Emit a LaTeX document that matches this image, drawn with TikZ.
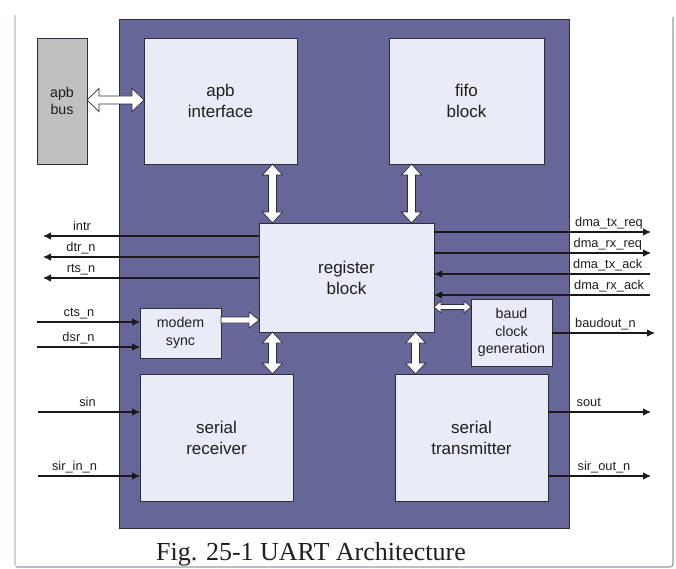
\documentclass[tikz,border=0pt]{standalone}
\usepackage{fontspec}
\setmainfont{Liberation Serif}
\newfontfamily\arialf{Liberation Sans}
\usetikzlibrary{calc,arrows.meta}
\definecolor{uartpurple}{RGB}{102,102,153}
\definecolor{boxfill}{RGB}{233,236,246}
\definecolor{busgrey}{RGB}{192,192,192}
\definecolor{edgecol}{RGB}{45,45,55}
\definecolor{txtcol}{RGB}{30,30,30}
\definecolor{frameL}{RGB}{205,212,216}
\definecolor{frameB}{RGB}{140,160,166}
\newcommand\harrowdbl[5]{%
  \path let \p1=($(#2)-(#1)$) in \pgfextra{%
    \pgfmathsetmacro\harL{veclen(\x1,\y1)}%
    \pgfmathsetmacro\harA{atan2(\y1,\x1)}%
    \global\let\harL\harL \global\let\harA\harA};
  \draw[hollow,shift={(#1)},rotate=\harA] (0,0) -- (#5,#4) -- (#5,#3) -- ({\harL-#5},#3) -- ({\harL-#5},#4) -- (\harL,0) -- ({\harL-#5},-#4) -- ({\harL-#5},-#3) -- (#5,-#3) -- (#5,-#4) -- cycle;
}
\newcommand\harrowsgl[5]{%
  \path let \p1=($(#2)-(#1)$) in \pgfextra{%
    \pgfmathsetmacro\harL{veclen(\x1,\y1)}%
    \pgfmathsetmacro\harA{atan2(\y1,\x1)}%
    \global\let\harL\harL \global\let\harA\harA};
  \draw[hollow,shift={(#1)},rotate=\harA] (0,#3) -- ({\harL-#5},#3) -- ({\harL-#5},#4) -- (\harL,0) -- ({\harL-#5},-#4) -- ({\harL-#5},-#3) -- (0,-#3) -- cycle;
}
\tikzset{
  blk/.style={draw=edgecol, line width=0.8pt, fill=boxfill, anchor=north west, inner sep=0pt, outer sep=0pt, align=center, text=txtcol},
  bigtxt/.style={font=\arialf\fontsize{17}{21}\selectfont},
  smalltxt/.style={font=\arialf\fontsize{14.2}{17.5}\selectfont},
  hollow/.style={draw=edgecol, fill=white, line width=0.7pt, line join=miter},
  sig/.style={draw=black!90, line width=1.1pt, -{Latex[length=8pt,width=7.5pt]}},
  siglbl/.style={font=\arialf\fontsize{12.8}{14}\selectfont, text=txtcol, inner sep=0pt},
}
\begin{document}
\begin{tikzpicture}[x=1pt,y=-1pt]
\useasboundingbox (0,0) rectangle (676,569);
% frame
\draw[frameL, line width=1.6pt] (15,15) -- (15,566);
\draw[frameB, line width=1.3pt, rounded corners=3pt] (16,567) -- (673,567) -- (673,17);
% main block
\node[draw=edgecol, line width=0.8pt, fill=uartpurple, anchor=north west, inner sep=0pt, outer sep=0pt, minimum width=450pt, minimum height=509pt] (uart) at (119,19) {};
% blocks
\node[blk, fill=busgrey, smalltxt, minimum width=50pt, minimum height=126pt] (apbbus) at (37,38) {apb\\bus};
\node[blk, bigtxt, minimum width=153pt, minimum height=126pt] (apbif) at (144,38) {apb\\interface};
\node[blk, bigtxt, minimum width=155pt, minimum height=126pt] (fifo) at (389,38) {fifo\\block};
\node[blk, bigtxt, minimum width=175pt, minimum height=109pt] (reg) at (259,223) {register\\block};
\node[blk, smalltxt, minimum width=81pt, minimum height=50pt] (modem) at (140,308) {modem\\sync};
\node[blk, smalltxt, minimum width=81pt, minimum height=67pt] (baud) at (471,299) {baud\\clock\\generation};
\node[blk, bigtxt, minimum width=153pt, minimum height=127pt] (rx) at (140,374) {serial\\receiver};
\node[blk, bigtxt, minimum width=153pt, minimum height=127pt] (tx) at (395,374) {serial\\transmitter};
% hollow arrow end points
\coordinate (apbA) at (apbbus.east |- 0,100);
\coordinate (apbB) at (apbif.west |- 0,100);
\coordinate (v1a) at (272.5,0 |- apbif.south);
\coordinate (v1b) at (272.5,0 |- reg.north);
\coordinate (v2a) at (411.5,0 |- fifo.south);
\coordinate (v2b) at (411.5,0 |- reg.north);
\coordinate (v3a) at (272.5,0 |- reg.south);
\coordinate (v3b) at (272.5,0 |- rx.north);
\coordinate (v4a) at (415.5,0 |- reg.south);
\coordinate (v4b) at (415.5,0 |- tx.north);
\coordinate (msA) at (modem.east |- 0,320);
\coordinate (msB) at (reg.west |- 0,320);
\coordinate (bdA) at (reg.east |- 0,307);
\coordinate (bdB) at (baud.west |- 0,307);
\harrowdbl{apbA}{apbB}{4}{11.5}{12}
\harrowdbl{v1a}{v1b}{4}{10}{11}
\harrowdbl{v2a}{v2b}{4}{10}{11}
\harrowdbl{v3a}{v3b}{4}{10}{11}
\harrowdbl{v4a}{v4b}{4}{10}{11}
\harrowsgl{msA}{msB}{3}{8}{10}
\harrowdbl{bdA}{bdB}{2.5}{6}{7}
% left signals
\coordinate (intrE) at (43,236);
\coordinate (dtrE) at (43,257);
\coordinate (rtsE) at (43,278);
\coordinate (ctsS) at (37,322);
\coordinate (dsrS) at (37,347);
\coordinate (sinS) at (38,412);
\coordinate (sirinS) at (38,476);
\draw[sig] (reg.west |- intrE) -- (intrE);
\draw[sig] (reg.west |- dtrE) -- (dtrE);
\draw[sig] (reg.west |- rtsE) -- (rtsE);
\draw[sig] (ctsS) -- (ctsS -| modem.west);
\draw[sig] (dsrS) -- (dsrS -| modem.west);
\draw[sig] (sinS) -- (sinS -| rx.west);
\draw[sig] (sirinS) -- (sirinS -| rx.west);
\node[siglbl, anchor=base] (lintr) at (82,230.5) {intr};
\node[siglbl, anchor=base] (ldtr) at (81,251.5) {dtr\_n};
\node[siglbl, anchor=base] (lrts) at (81,272.5) {rts\_n};
\node[siglbl, anchor=base] (lcts) at (79,316.5) {cts\_n};
\node[siglbl, anchor=base] (ldsr) at (78.5,341.5) {dsr\_n};
\node[siglbl, anchor=base] (lsin) at (87.5,406.5) {sin};
\node[siglbl, anchor=base] (lsirin) at (74.5,470.5) {sir\_in\_n};
% right signals
\coordinate (txreqE) at (651,232);
\coordinate (rxreqE) at (651,253);
\coordinate (txackS) at (650,274);
\coordinate (rxackS) at (650,295);
\coordinate (baudE) at (655,333);
\coordinate (soutE) at (651,412);
\coordinate (siroutE) at (651,476);
\draw[sig] (reg.east |- txreqE) -- (txreqE);
\draw[sig] (reg.east |- rxreqE) -- (rxreqE);
\draw[sig] (txackS) -- (txackS -| reg.east);
\draw[sig] (rxackS) -- (rxackS -| reg.east);
\draw[sig] (baud.east |- baudE) -- (baudE);
\draw[sig] (tx.east |- soutE) -- (soutE);
\draw[sig] (tx.east |- siroutE) -- (siroutE);
\node[siglbl, anchor=base west] (ltxreq) at (575,226) {dma\_tx\_req};
\node[siglbl, anchor=base west] (lrxreq) at (573.5,247) {dma\_rx\_req};
\node[siglbl, anchor=base west] (ltxack) at (573,268) {dma\_tx\_ack};
\node[siglbl, anchor=base west] (lrxack) at (574,289) {dma\_rx\_ack};
\node[siglbl, anchor=base west] (lbaud) at (575,327) {baudout\_n};
\node[siglbl, anchor=base west] (lsout) at (576.5,406) {sout};
\node[siglbl, anchor=base west] (lsirout) at (577.5,470) {sir\_out\_n};
% caption
\node[font=\fontsize{26}{30}\selectfont, text=txtcol, inner sep=0pt, anchor=base] (cap) at (311,560) {Fig. 25-1 UART Architecture};
\end{tikzpicture}
\end{document}
